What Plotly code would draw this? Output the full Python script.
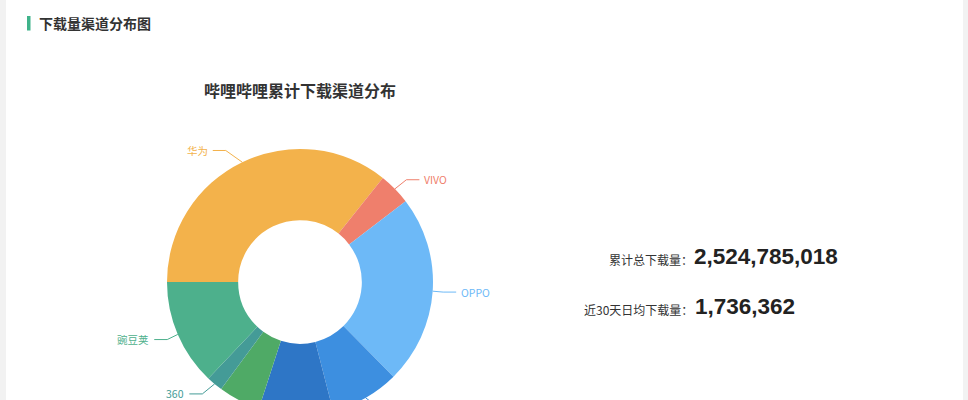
import math
import plotly.graph_objects as go

# ---- data ----
channels = ["华为", "VIVO", "OPPO", "小米", "应用宝", "百度", "360", "豌豆荚"]
shares = [35.7, 3.9, 23.0, 8.4, 9.0, 5.1, 2.0, 12.9]
colors = ["#F3B24B", "#EF7F6C", "#6DB9F7", "#3D8FE0", "#2E76C6", "#4FAA66", "#449B97", "#4DB08C"]
total_label = "累计总下载量："
total_value = "2,524,785,018"
daily_label = "近30天日均下载量："
daily_value = "1,736,362"
header = "下载量渠道分布图"
chart_title = "哔哩哔哩累计下载渠道分布"

W, H = 968, 440
VIEW_H = 400
CX, CY, R = 300, 282, 133
HOLE = 0.465
ROT = -90

def px(x):
    return x / W

def py(y):
    return 1 - y / H

fig = go.Figure()
fig.add_trace(go.Pie(
    labels=channels, values=shares, sort=False, direction="clockwise",
    rotation=ROT, hole=HOLE, textinfo="none", hoverinfo="label+percent",
    marker=dict(colors=colors, line=dict(width=0)),
    domain=dict(x=[px(CX - R), px(CX + R)], y=[py(CY + R), py(CY - R)]),
    showlegend=False,
))

shapes = [
    dict(type="rect", xref="paper", yref="paper", x0=px(6), x1=px(963), y0=0, y1=1,
         fillcolor="#FFFFFF", line=dict(width=0), layer="below"),
    dict(type="rect", xref="paper", yref="paper", x0=px(27), x1=px(30.5), y0=py(30.5), y1=py(16),
         fillcolor="#3FB38A", line=dict(width=0)),
]
annotations = [
    dict(text=header, x=px(37), y=py(23), xref="paper", yref="paper", xanchor="left",
         yanchor="middle", showarrow=False,
         font=dict(family="Noto Sans CJK SC", size=14, color="#333333", weight="bold")),
    dict(text=chart_title, x=px(300), y=py(90), xref="paper", yref="paper", xanchor="center",
         yanchor="middle", showarrow=False,
         font=dict(family="Noto Sans CJK SC", size=16, color="#333333", weight="bold")),
    dict(text=total_label, x=px(695), y=py(259), xref="paper", yref="paper", xanchor="right",
         yanchor="middle", showarrow=False,
         font=dict(family="Noto Sans CJK SC", size=12, color="#333333")),
    dict(text=total_value, x=px(692), y=py(256), xref="paper", yref="paper", xanchor="left",
         yanchor="middle", showarrow=False,
         font=dict(family="Liberation Sans", size=22.5, color="#222222", weight="bold")),
    dict(text=daily_label, x=px(695), y=py(309), xref="paper", yref="paper", xanchor="right",
         yanchor="middle", showarrow=False,
         font=dict(family="Noto Sans CJK SC", size=12, color="#333333")),
    dict(text=daily_value, x=px(693), y=py(306), xref="paper", yref="paper", xanchor="left",
         yanchor="middle", showarrow=False,
         font=dict(family="Liberation Sans", size=22.5, color="#222222", weight="bold")),
]

# label lines computed from the slice angles (echarts-like outer label layout)
tot = sum(shares)
cum = 0.0
R_LABEL, R_TEXT, L2, GAP = 146, 159.5, 13, 3
for name, v, c in zip(channels, shares, colors):
    mid = ROT + (cum + v / 2) / tot * 360
    cum += v
    t = math.radians(mid)
    dx, dy = math.sin(t), -math.cos(t)
    s = 1 if dx >= 0 else -1
    ax, ay = CX + R * dx, CY + R * dy
    ly = CY + R_LABEL * dy
    dy_abs = abs(ly - CY)
    tx = CX + s * math.sqrt(max(R_TEXT ** 2 - dy_abs ** 2, 0.0))
    ex = tx - s * GAP
    bx = ex - s * L2
    path = f"M{px(ax)},{py(ay)} L{px(bx)},{py(ly)} L{px(ex)},{py(ly)}"
    shapes.append(dict(type="path", xref="paper", yref="paper", path=path,
                       line=dict(color=c, width=1)))
    if ly < VIEW_H:
        annotations.append(dict(text=name, x=px(tx), y=py(ly), xref="paper", yref="paper",
                                xanchor="left" if s > 0 else "right", yanchor="middle",
                                showarrow=False,
                                font=dict(family="Noto Sans CJK SC", size=10.5, color=c)))

fig.update_layout(
    width=W, height=H, margin=dict(l=0, r=0, t=0, b=0),
    paper_bgcolor="#F2F2F2", plot_bgcolor="#FFFFFF",
    shapes=shapes, annotations=annotations,
)

fig.write_html(
    "out.html",
    config={"displayModeBar": False},
    post_script="document.body.style.margin='0';document.body.style.overflow='hidden';"
                "document.documentElement.style.overflow='hidden';",
)
